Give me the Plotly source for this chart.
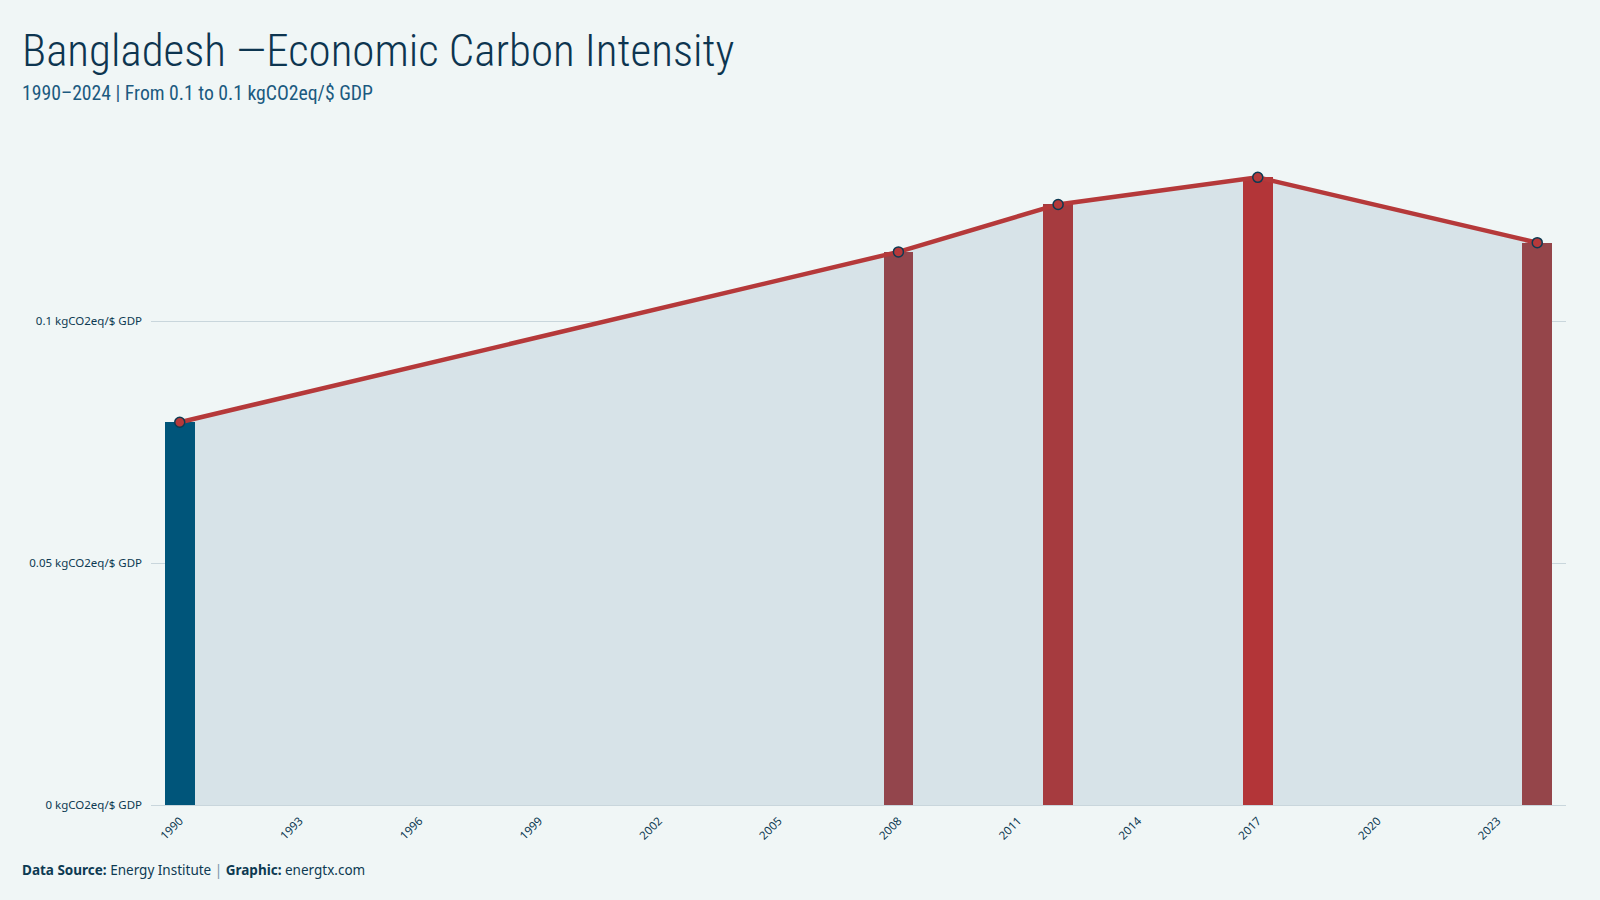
import plotly.graph_objects as go

years = [1990, 2008, 2012, 2017, 2024]
values = [0.0791, 0.1143, 0.1241, 0.1297, 0.1162]
bar_colors = ["#00557a", "#93454c", "#a63b3f", "#b33538", "#95454a"]
y_tickvals = [0, 0.05, 0.1]
y_ticktext = ["0 kgCO2eq/$ GDP", "0.05 kgCO2eq/$ GDP", "0.1 kgCO2eq/$ GDP"]
x_tickvals = list(range(1990, 2024, 3))

BG = "#f0f6f6"
DARK = "#0d3a52"
W, H = 1600, 900
ML, MR, MT, MB = 151, 34, 113, 95
PW, PH = W - ML - MR, H - MT - MB
XR = [1989.28, 2024.72]
YR = [0, 0.143]

def xpaper(px):
    return (px - ML) / PW

def ypaper(px_from_top):
    return (H - MB - px_from_top) / PH

fig = go.Figure()
fig.add_trace(go.Scatter(x=years, y=values, mode="lines", line=dict(width=0),
                         fill="tozeroy", fillcolor="#d7e3e8", hoverinfo="skip",
                         showlegend=False, xaxis="x", yaxis="y"))
fig.add_trace(go.Bar(x=years, y=values, marker=dict(color=bar_colors, line=dict(width=0)),
                     width=0.74, showlegend=False, xaxis="x2", yaxis="y2"))
fig.add_trace(go.Scatter(x=years, y=values, mode="lines+markers",
                         line=dict(color="#b5393a", width=4.5),
                         marker=dict(size=10, color="#b5393a",
                                     line=dict(color=DARK, width=1.5)),
                         showlegend=False, xaxis="x2", yaxis="y2"))

fig.update_layout(
    width=W, height=H,
    paper_bgcolor=BG, plot_bgcolor=BG,
    margin=dict(l=ML, r=MR, t=MT, b=MB),
    xaxis=dict(range=XR, tickvals=x_tickvals, tickangle=-45,
               showgrid=False, zeroline=False, showline=False,
               tickfont=dict(family="Noto Sans", size=11.5, color=DARK),
               ticks="", ticklabelstandoff=6),
    yaxis=dict(range=YR, tickvals=y_tickvals, ticktext=y_ticktext,
               showgrid=True, gridcolor="#c9d6dc", gridwidth=1,
               zeroline=True, zerolinecolor="#c9d6dc", zerolinewidth=1,
               tickfont=dict(family="Noto Sans", size=11.5, color=DARK),
               ticks="", ticklabelstandoff=8),
    xaxis2=dict(range=XR, overlaying="x", visible=False),
    yaxis2=dict(range=YR, overlaying="y", visible=False),
    bargap=0,
    annotations=[
        dict(text="Bangladesh \u2014Economic Carbon Intensity",
             xref="paper", yref="paper",
             x=xpaper(20), y=ypaper(50), xanchor="left", yanchor="middle", showarrow=False,
             font=dict(family="Roboto Condensed, DejaVu Sans Condensed", size=45, color="#0d3550", weight=300)),
        dict(text="1990\u20132024 | From 0.1 to 0.1 kgCO2eq/$ GDP",
             xref="paper", yref="paper",
             x=xpaper(20), y=ypaper(94), xanchor="left", yanchor="middle", showarrow=False,
             font=dict(family="Roboto Condensed, DejaVu Sans Condensed", size=19.7, color="#1b5a80")),
        dict(text="<b>Data Source:</b> Energy Institute <span style='color:#7a97a8'>|</span> <b>Graphic:</b> energtx.com",
             xref="paper", yref="paper", x=xpaper(20), y=ypaper(870), xanchor="left", yanchor="middle",
             showarrow=False, font=dict(family="Noto Sans", size=13.5, color=DARK)),
    ],
)

fig.write_html("out.html")
